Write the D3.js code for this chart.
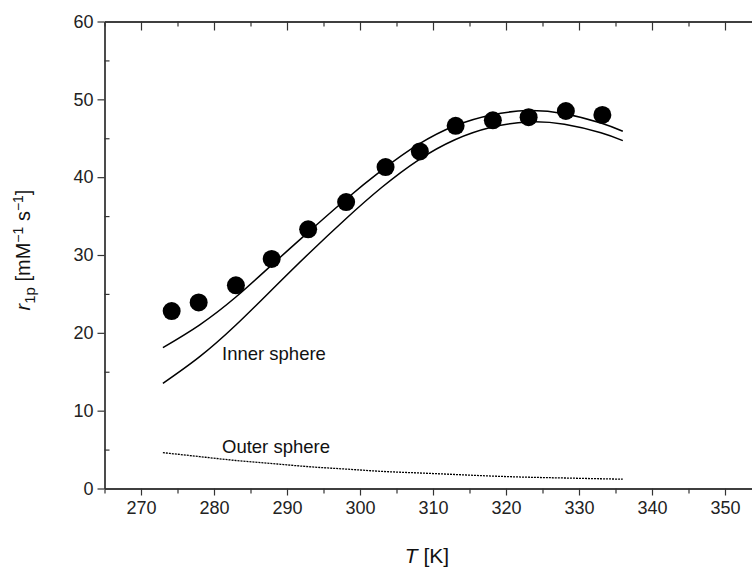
<!DOCTYPE html>
<html>
<head>
<meta charset="utf-8">
<script src="https://cdn.jsdelivr.net/npm/d3@7"></script>
<style>
  html, body { margin: 0; padding: 0; background: #fff; }
  svg { display: block; font-family: "Liberation Sans", Arial, sans-serif; }
</style>
</head>
<body>
<svg id="chart" width="752" height="570"></svg>
<script>
// ---- data ----
const pointT = [274.2, 277.9, 283.0, 287.9, 292.9, 298.1, 303.5, 308.2, 313.1, 318.2, 323.1, 328.2, 333.2];
const pointR = [22.8, 23.9, 26.1, 29.5, 33.3, 36.8, 41.3, 43.3, 46.6, 47.3, 47.7, 48.5, 48.0];

const curveT  = [273, 278, 283, 288, 293, 298, 303, 308, 313, 318, 323, 328, 333, 336];
const totalR  = [18.1, 21.0, 24.6, 28.8, 33.0, 37.1, 40.9, 44.2, 46.6, 48.0, 48.55, 48.15, 46.95, 45.9];
const innerR  = [13.5, 16.9, 21.0, 25.6, 30.2, 34.6, 38.7, 42.2, 44.8, 46.4, 47.1, 46.8, 45.7, 44.7];
const outerR  = [4.6, 4.1, 3.6, 3.2, 2.8, 2.5, 2.2, 2.0, 1.8, 1.6, 1.45, 1.35, 1.25, 1.2];

const xMajor = [270, 280, 290, 300, 310, 320, 330, 340, 350];
const xMinor = [265, 275, 285, 295, 305, 315, 325, 335, 345, 355];
const yMajor = [0, 10, 20, 30, 40, 50, 60];
const yMinor = [5, 15, 25, 35, 45, 55];

// ---- layout ----
const svg = d3.select("#chart");
const mLeft = 104.5, mTop = 21.5, mBottom = 488.5;
const x = d3.scaleLinear().domain([265, 360]).range([mLeft, mLeft + 95 * 7.3]);
const y = d3.scaleLinear().domain([0, 60]).range([mBottom, mTop]);
const axisColor = "#333";

function styleAxis(g) {
  g.selectAll("path.domain").attr("stroke", axisColor).attr("stroke-width", 1.3);
  g.selectAll(".tick line").attr("stroke", axisColor).attr("stroke-width", 1.2);
  g.selectAll(".tick text").attr("fill", "#222").style("font-size", "18px")
    .style("font-family", "'Liberation Sans', Arial, sans-serif");
}

// bottom axis
svg.append("g").attr("transform", `translate(0,${mBottom})`)
  .call(d3.axisBottom(x).tickValues(xMajor).tickSize(7).tickPadding(6).tickFormat(d3.format("d")).tickSizeOuter(0))
  .call(styleAxis);
svg.append("g").attr("transform", `translate(0,${mBottom})`)
  .call(d3.axisBottom(x).tickValues(xMinor).tickSize(5).tickFormat("").tickSizeOuter(0))
  .call(styleAxis);
// top axis (ticks inward)
svg.append("g").attr("transform", `translate(0,${mTop})`)
  .call(d3.axisBottom(x).tickValues(xMajor).tickSize(9).tickFormat("").tickSizeOuter(0))
  .call(styleAxis);
svg.append("g").attr("transform", `translate(0,${mTop})`)
  .call(d3.axisBottom(x).tickValues(xMinor).tickSize(5).tickFormat("").tickSizeOuter(0))
  .call(styleAxis);
// left axis
svg.append("g").attr("transform", `translate(${mLeft},0)`)
  .call(d3.axisLeft(y).tickValues(yMajor).tickSize(7).tickPadding(4).tickFormat(d3.format("d")).tickSizeOuter(0))
  .call(styleAxis);
svg.append("g").attr("transform", `translate(${mLeft},0)`)
  .call(d3.axisRight(y).tickValues(yMinor).tickSize(5).tickFormat("").tickSizeOuter(0))
  .call(styleAxis);

// ---- curves ----
const line = d3.line().curve(d3.curveNatural);
const mk = (vals) => curveT.map((t, i) => [x(t), y(vals[i])]);

svg.append("path").attr("d", line(mk(totalR)))
  .attr("fill", "none").attr("stroke", "#000").attr("stroke-width", 1.5);
svg.append("path").attr("d", line(mk(innerR)))
  .attr("fill", "none").attr("stroke", "#000").attr("stroke-width", 1.5);
svg.append("path").attr("d", line(mk(outerR)))
  .attr("fill", "none").attr("stroke", "#000").attr("stroke-width", 1.3)
  .attr("stroke-dasharray", "2,1");

// ---- points ----
svg.append("g").selectAll("circle").data(pointT).join("circle")
  .attr("cx", (d) => x(d)).attr("cy", (d, i) => y(pointR[i])).attr("r", 9)
  .attr("fill", "#000");

// ---- annotations ----
svg.append("text").attr("x", 222).attr("y", 360).style("font-size", "18.5px").attr("fill", "#111").text("Inner sphere");
svg.append("text").attr("x", 222).attr("y", 453).style("font-size", "18.5px").attr("fill", "#111").text("Outer sphere");

// axis titles
const xt = svg.append("text").attr("x", 427).attr("y", 563).attr("text-anchor", "middle")
  .style("font-size", "21px").attr("fill", "#111");
xt.append("tspan").style("font-style", "italic").text("T");
xt.append("tspan").text(" [K]");

const yt = svg.append("text").attr("transform", "translate(30,250) rotate(-90)")
  .attr("text-anchor", "middle").style("font-size", "20px").attr("fill", "#111");
yt.append("tspan").style("font-style", "italic").text("r");
yt.append("tspan").attr("dy", 5).style("font-size", "15px").text("1p");
yt.append("tspan").attr("dy", -5).text(" [mM");
yt.append("tspan").attr("dy", -7).style("font-size", "14px").text("\u22121");
yt.append("tspan").attr("dy", 7).text(" s");
yt.append("tspan").attr("dy", -7).style("font-size", "14px").text("\u22121");
yt.append("tspan").attr("dy", 7).text("]");
</script>
</body>
</html>
